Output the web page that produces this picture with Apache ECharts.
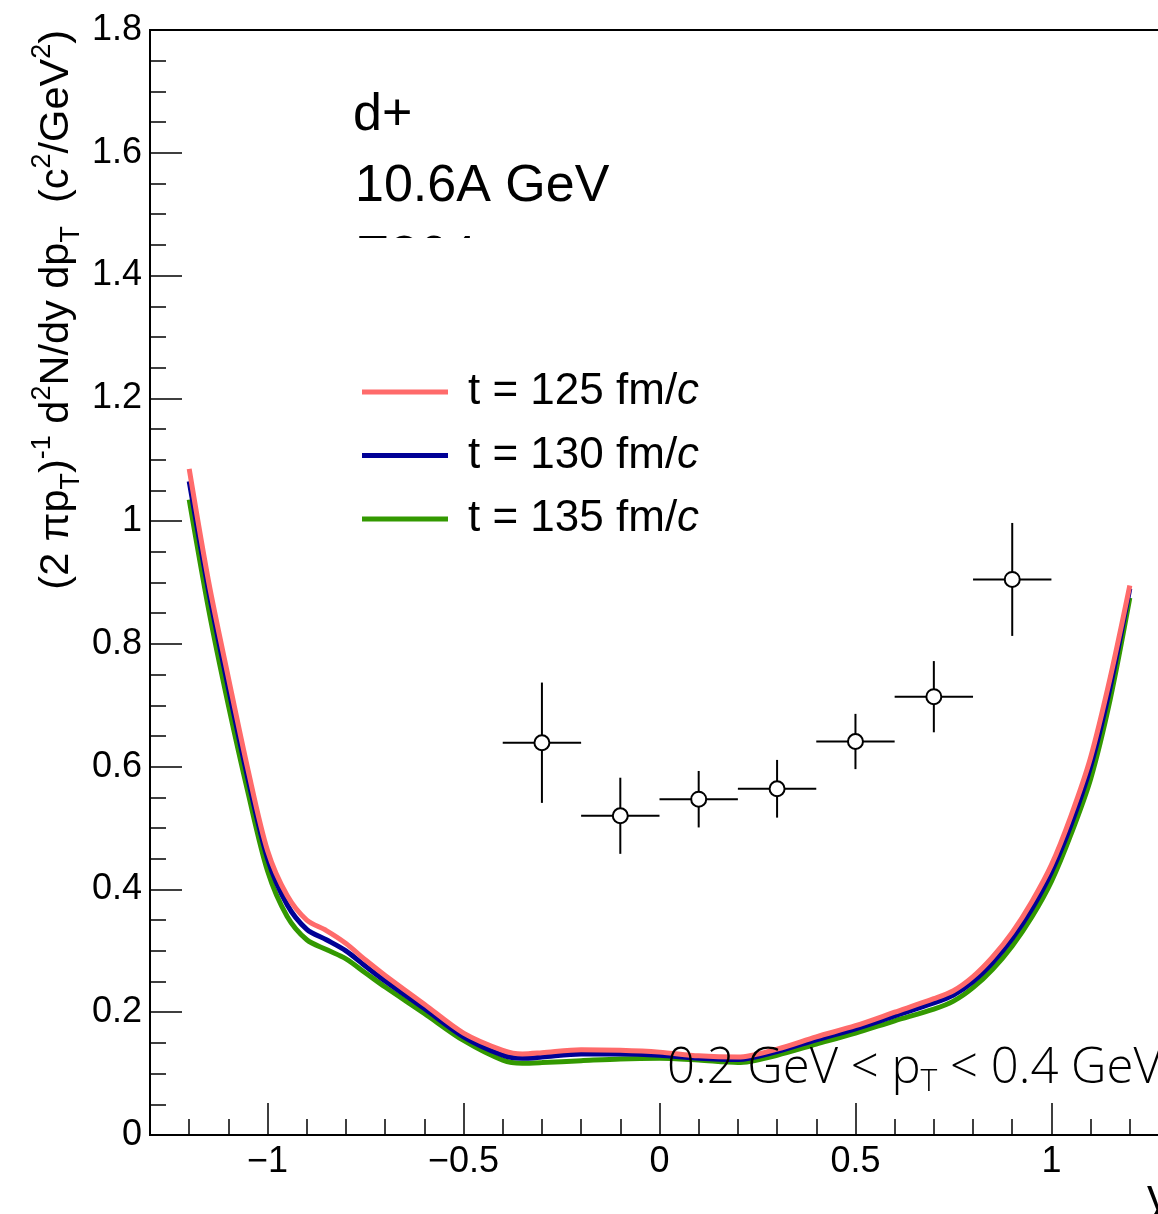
<!DOCTYPE html>
<html>
<head>
<meta charset="utf-8">
<script src="https://cdn.jsdelivr.net/npm/echarts@6/dist/echarts.min.js"></script>
<style>
  html, body { margin: 0; padding: 0; background: #fff; overflow: hidden; }
  #chart { width: 1200px; height: 1214px; }
</style>
</head>
<body>
<div id="chart"></div>
<script>
// Rapidity grid of the transport-model curves
const rapidity = [-1.2, -1.15, -1.1, -1.05, -1.0, -0.95, -0.9, -0.85, -0.8, -0.75, -0.7, -0.6, -0.5, -0.4, -0.35, -0.3, -0.2, -0.1, 0, 0.1, 0.2, 0.3, 0.4, 0.5, 0.6, 0.7, 0.75, 0.8, 0.85, 0.9, 0.95, 1.0, 1.05, 1.1, 1.15, 1.2];

// Invariant yield at the three freeze-out times
const yield125 = [1.085, 0.900, 0.745, 0.595, 0.463, 0.390, 0.350, 0.333, 0.312, 0.285, 0.260, 0.213, 0.166, 0.138, 0.132, 0.134, 0.139, 0.138, 0.135, 0.129, 0.127, 0.140, 0.160, 0.178, 0.200, 0.222, 0.235, 0.258, 0.290, 0.330, 0.380, 0.440, 0.520, 0.615, 0.745, 0.895];
const yield130 = [1.065, 0.885, 0.728, 0.580, 0.450, 0.375, 0.335, 0.318, 0.300, 0.275, 0.251, 0.206, 0.160, 0.130, 0.125, 0.127, 0.132, 0.132, 0.130, 0.125, 0.123, 0.136, 0.155, 0.173, 0.194, 0.215, 0.228, 0.250, 0.281, 0.320, 0.368, 0.428, 0.505, 0.600, 0.730, 0.890];
const yield135 = [1.035, 0.855, 0.700, 0.558, 0.430, 0.356, 0.318, 0.302, 0.287, 0.264, 0.241, 0.198, 0.154, 0.122, 0.117, 0.118, 0.121, 0.124, 0.125, 0.122, 0.118, 0.130, 0.148, 0.166, 0.186, 0.205, 0.218, 0.240, 0.270, 0.308, 0.355, 0.413, 0.490, 0.580, 0.710, 0.875];

// Measured deuteron yields with uncertainties
const pointRapidity    = [-0.3, -0.1, 0.1, 0.3, 0.5, 0.7, 0.9];
const pointRapidityErr = [0.1, 0.1, 0.1, 0.1, 0.1, 0.1, 0.1];
const pointYield       = [0.639, 0.520, 0.547, 0.564, 0.641, 0.714, 0.905];
const pointYieldErr    = [0.098, 0.062, 0.046, 0.047, 0.045, 0.058, 0.092];

// Axis ticks
const xMajorTicks = [-1, -0.5, 0, 0.5, 1];
const xMinorTicks = [-1.2, -1.1, -0.9, -0.8, -0.7, -0.6, -0.4, -0.3, -0.2, -0.1, 0.1, 0.2, 0.3, 0.4, 0.6, 0.7, 0.8, 0.9, 1.1, 1.2];
const yMin = 0, yMax = 1.8, yStep = 0.2;

const seriesNames = ['t = 125 fm/c', 't = 130 fm/c', 't = 135 fm/c'];
const seriesColors = ['#ff6b6b', '#000096', '#339900'];
const seriesValues = [yield125, yield130, yield135];

const FONT = '"Liberation Sans", Arial, Helvetica, sans-serif';
const LIGHT = '"Open Sans", Roboto, ' + FONT;

const chart = echarts.init(document.getElementById('chart'), null, { renderer: 'canvas' });

const lineSeries = seriesValues.map((vals, k) => ({
  name: seriesNames[k],
  type: 'line',
  xAxisIndex: 0,
  yAxisIndex: 0,
  data: rapidity.map((x, i) => [x, vals[i]]),
  smooth: 0.3,
  showSymbol: false,
  symbol: 'none',
  lineStyle: { color: seriesColors[k], width: 5 },
  itemStyle: { color: seriesColors[k] },
  z: 3 + (2 - k)
}));

const pointSeries = {
  name: 'data',
  type: 'custom',
  xAxisIndex: 0,
  yAxisIndex: 0,
  z: 10,
  data: pointRapidity.map((x, i) => [x, pointYield[i], pointRapidityErr[i], pointYieldErr[i]]),
  renderItem(params, api) {
    const x = api.value(0), y = api.value(1), ex = api.value(2), ey = api.value(3);
    const c = api.coord([x, y]);
    const l = api.coord([x - ex, y]);
    const r = api.coord([x + ex, y]);
    const t = api.coord([x, y + ey]);
    const b = api.coord([x, y - ey]);
    const s = { stroke: '#000', lineWidth: 2 };
    return {
      type: 'group',
      children: [
        { type: 'line', shape: { x1: l[0], y1: c[1], x2: r[0], y2: c[1] }, style: s },
        { type: 'line', shape: { x1: c[0], y1: t[1], x2: c[0], y2: b[1] }, style: s },
        { type: 'circle', shape: { cx: c[0], cy: c[1], r: 7.5 }, style: { fill: '#fff', stroke: '#000', lineWidth: 2 } }
      ]
    };
  }
};

const minusFmt = v => String(v).replace('-', '\u2212');

const option = {
  animation: false,
  backgroundColor: '#fff',
  grid: {
    left: 150, top: 30, width: 1019, height: 1105,
    show: true, borderColor: '#000', borderWidth: 2, backgroundColor: 'transparent'
  },
  xAxis: [
    {
      type: 'value', min: -1.3, max: 1.3, position: 'bottom',
      axisLine: { show: true, onZero: false, lineStyle: { color: '#000', width: 2 } },
      axisTick: { show: true, inside: true, length: 32, customValues: xMajorTicks, lineStyle: { color: '#000', width: 1.5 } },
      axisLabel: { show: true, customValues: xMajorTicks, formatter: minusFmt, fontSize: 36, fontFamily: FONT, color: '#000', margin: 9 },
      splitLine: { show: false }
    },
    {
      type: 'value', min: -1.3, max: 1.3, position: 'bottom',
      axisLine: { show: false, onZero: false },
      axisTick: { show: true, inside: true, length: 16, customValues: xMinorTicks, lineStyle: { color: '#000', width: 1.5 } },
      axisLabel: { show: false },
      splitLine: { show: false }
    }
  ],
  yAxis: {
    type: 'value', min: yMin, max: yMax, interval: yStep, position: 'left',
    axisLine: { show: true, onZero: false, lineStyle: { color: '#000', width: 2 } },
    axisTick: { show: true, inside: true, length: 32, lineStyle: { color: '#000', width: 1.5 } },
    minorTick: { show: true, splitNumber: 4, length: 16, lineStyle: { color: '#000', width: 1.5 } },
    axisLabel: { fontSize: 36, fontFamily: FONT, color: '#000', margin: 8 },
    splitLine: { show: false },
    minorSplitLine: { show: false }
  },
  legend: {
    data: seriesNames,
    orient: 'vertical',
    left: 357, top: 365,
    z: 20,
    icon: 'rect',
    itemWidth: 86, itemHeight: 5, itemGap: 19.5,
    formatter: name => name.replace(/c$/, '{i|c}'),
    textStyle: {
      fontSize: 44, fontFamily: FONT, color: '#000', lineHeight: 44, padding: [0, 0, 0, 15],
      rich: { i: { fontSize: 44, fontFamily: FONT, fontStyle: 'italic', color: '#000', lineHeight: 44 } }
    },
    selectedMode: false
  },
  graphic: [
    { type: 'text', z: 1, x: 353, y: 116,
      style: { text: 'd+', fontSize: 52, fontFamily: FONT, fill: '#000', align: 'left', verticalAlign: 'middle', textAlign: 'left', textVerticalAlign: 'middle' } },
    { type: 'text', z: 1, x: 355, y: 187,
      style: { text: '10.6A GeV', fontSize: 52, fontFamily: FONT, fill: '#000', align: 'left', verticalAlign: 'middle', textAlign: 'left', textVerticalAlign: 'middle' } },
    { type: 'text', z: 1, x: 355, y: 258,
      style: { text: 'E864', fontSize: 52, fontFamily: FONT, fill: '#000', align: 'left', verticalAlign: 'middle', textAlign: 'left', textVerticalAlign: 'middle' } },
    // legend backdrop
    { type: 'rect', z: 2, shape: { x: 345, y: 238, width: 370, height: 320 }, style: { fill: '#fff' } },
    { type: 'text', z: 30, x: 667, y: 1069,
      style: {
        text: '0.2 GeV < p{sub|T} < 0.4 GeV',
        fontSize: 49, fontFamily: LIGHT, fontWeight: 300, fill: '#000',
        align: 'left', verticalAlign: 'middle', textAlign: 'left', textVerticalAlign: 'middle',
        lineHeight: 58,
        rich: {
          sub: { fontSize: 32, fontFamily: LIGHT, fontWeight: 300, fill: '#000', lineHeight: 32, verticalAlign: 'bottom' }
        }
      } },
    { type: 'text', z: 20, x: 1169, y: 1198,
      style: { text: 'y', fontSize: 44, fontFamily: FONT, fill: '#000', align: 'right', verticalAlign: 'middle', textAlign: 'right', textVerticalAlign: 'middle' } },
    { type: 'text', z: 20, x: 57, y: 30, rotation: Math.PI / 2,
      style: {
        text: '(2 \u03c0p{sub|T}){sup|-1} d{sup|2}N/dy dp{sub|T}  (c{sup|2}/GeV{sup|2})',
        fontSize: 41.5, fontFamily: FONT, fill: '#000', lineHeight: 56,
        align: 'right', verticalAlign: 'middle', textAlign: 'right', textVerticalAlign: 'middle',
        rich: {
          sup: { fontSize: 27, fontFamily: FONT, fill: '#000', lineHeight: 26, verticalAlign: 'top' },
          sub: { fontSize: 27, fontFamily: FONT, fill: '#000', lineHeight: 26, verticalAlign: 'bottom' }
        }
      } }
  ],
  series: [...lineSeries, pointSeries]
};

chart.setOption(option);
</script>
</body>
</html>
